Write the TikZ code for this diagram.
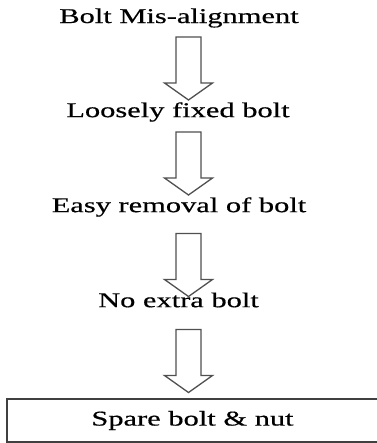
\documentclass[tikz,border=0pt]{standalone}
\usepackage{fontspec}
\setmainfont{Liberation Serif}[FakeStretch=1.45, FakeBold=0.5]
\usetikzlibrary{calc}
\definecolor{arrowgray}{HTML}{505050}
\definecolor{boxgray}{HTML}{404040}
\tikzset{
  lbl/.style={font=\fontsize{21}{24}\selectfont, inner sep=0pt, text=black},
  blockarrow/.pic={
    \draw[arrowgray, line width=1.3pt, line join=miter, fill=white]
      (-12.5,0) -- (12.5,0) -- (12.5,46) -- (24,46) -- (0,63) -- (-24,46) -- (-12.5,46) -- cycle;
  },
  finalbox/.style={draw=boxgray, line width=1.5pt, minimum width=371pt, minimum height=43pt, inner sep=0pt, font=\fontsize{21}{24}\selectfont}
}
\begin{document}
\begin{tikzpicture}[x=1pt, y=-1pt]
\useasboundingbox (0,0) rectangle (376,443);
\node[lbl] (t1) at (179,18) {Bolt Mis-alignment};
\node[lbl] (t2) at (178,112) {Loosely fixed bolt};
\node[lbl] (t3) at (179,207) {Easy removal of bolt};
\node[lbl] (t4) at (178.5,300) {No extra bolt};
\node[finalbox] (t5) at (192.5,420.5) {Spare bolt \& nut};
\coordinate (a1) at (188.5,37);
\coordinate (a2) at (188.5,132);
\coordinate (a3) at (188.5,233.5);
\coordinate (a4) at (188.5,329.5);
\pic at (a1) {blockarrow};
\pic at (a2) {blockarrow};
\pic at (a3) {blockarrow};
\pic at (a4) {blockarrow};
\end{tikzpicture}
\end{document}
